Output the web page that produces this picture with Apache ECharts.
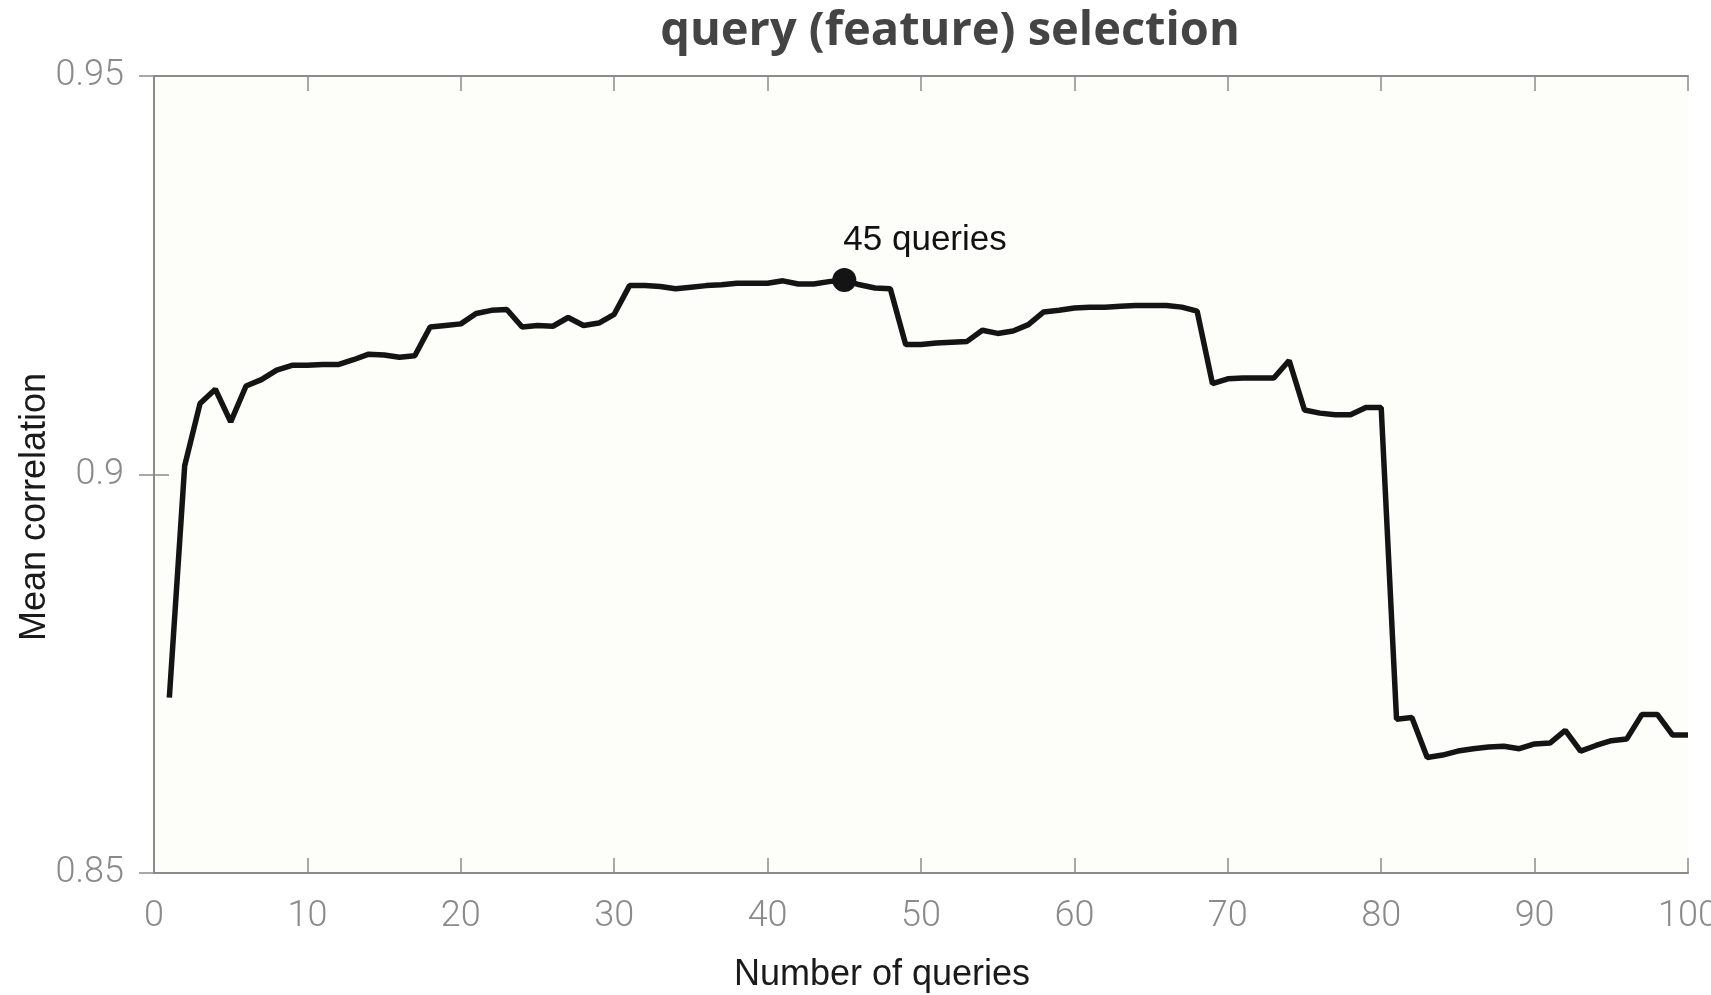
<!DOCTYPE html>
<html><head><meta charset="utf-8">
<script src="https://cdn.jsdelivr.net/npm/echarts@6/dist/echarts.min.js"></script>
<style>html,body{margin:0;padding:0;background:#fff}#c{width:1711px;height:995px}</style>
</head><body><div id="c"></div>
<script>
const queries = Array.from({length:100},(_,i)=>i+1);
const meanCorr = [
0.8720,0.9011,0.9089,0.9107,0.9066,0.9111,0.9119,0.9131,0.9137,0.9137,
0.9138,0.9138,0.9144,0.9151,0.9150,0.9147,0.9149,0.9185,0.9187,0.9189,
0.9202,0.9206,0.9207,0.9185,0.9187,0.9186,0.9197,0.9187,0.9190,0.9201,
0.9237,0.9237,0.9236,0.9233,0.9235,0.9237,0.9238,0.9240,0.9240,0.9240,
0.9243,0.9239,0.9239,0.9242,0.9244,0.9238,0.9234,0.9233,0.9163,0.9163,
0.9165,0.9166,0.9167,0.9181,0.9177,0.9180,0.9188,0.9204,0.9206,0.9209,
0.9210,0.9210,0.9211,0.9212,0.9212,0.9212,0.9210,0.9205,0.9114,0.9120,
0.9121,0.9121,0.9121,0.9143,0.9081,0.9077,0.9075,0.9075,0.9084,0.9084,
0.8693,0.8695,0.8645,0.8648,0.8653,0.8656,0.8658,0.8659,0.8656,0.8662,
0.8663,0.8679,0.8653,0.8660,0.8666,0.8668,0.8699,0.8699,0.8673,0.8673];
const highlightIndex = 45;
const highlightLabel = '45 queries';
const titleText = 'query (feature) selection';
const xName = 'Number of queries';
const yName = 'Mean correlation';

const chart = echarts.init(document.getElementById('c'));
const tickFont = {fontFamily:'Roboto', fontWeight:300, fontSize:36, color:'#8a8a8a'};
const axisLineStyle = {color:'#8c8c8c', width:2};
chart.setOption({
  backgroundColor:'#ffffff',
  animation:false,
  title:{text:titleText, left:945, top:27, textAlign:'center', textVerticalAlign:'middle',
    textStyle:{fontFamily:'Open Sans', fontWeight:'bold', fontSize:47, color:'#444444'}},
  grid:{left:154, right:23, top:76, bottom:122, outerBoundsMode:'none', containLabel:false,
    show:true, backgroundColor:'#fdfdf9', borderWidth:0},
  xAxis:[
    {type:'value', min:0, max:100, interval:10, position:'bottom',
     axisLine:{show:true, lineStyle:axisLineStyle},
     axisTick:{show:true, inside:true, length:15, lineStyle:{color:'#8c8c8c', width:1.5}},
     axisLabel:Object.assign({margin:26}, tickFont), splitLine:{show:false}},
    {type:'value', min:0, max:100, interval:10, position:'top',
     axisLine:{show:true, lineStyle:axisLineStyle},
     axisTick:{show:true, inside:true, length:15, lineStyle:{color:'#8c8c8c', width:1.5}},
     axisLabel:{show:false}, splitLine:{show:false}}
  ],
  yAxis:[
    {type:'value', min:0.85, max:0.95, interval:0.05, position:'left',
     axisLine:{show:true, lineStyle:axisLineStyle},
     axisTick:{show:true, inside:true, length:15, lineStyle:{color:'#8c8c8c', width:1.5}},
     axisLabel:Object.assign({margin:30}, tickFont), splitLine:{show:false}},
    {type:'value', min:0.85, max:0.95, interval:0.05, position:'right',
     axisLine:{show:true, lineStyle:axisLineStyle},
     axisTick:{show:true, inside:true, length:15, lineStyle:{color:'#8c8c8c', width:1.5}},
     axisLabel:{show:false}, splitLine:{show:false}}
  ],
  graphic:[
    {type:'text', x:882, y:975, style:{text:xName, fill:'#1a1a1a', font:'36px "Liberation Sans"', textAlign:'center', textVerticalAlign:'middle'}},
    {type:'text', x:35, y:507, rotation:Math.PI/2, style:{text:yName, fill:'#1a1a1a', font:'36px "Liberation Sans"', textAlign:'center', textVerticalAlign:'middle'}}
  ],
  series:[
    {type:'line', data:queries.map((q,i)=>[q, meanCorr[i]]), showSymbol:false, symbol:'none',
     lineStyle:{color:'#141414', width:5.5}, z:3},
    {type:'scatter', data:[[highlightIndex, meanCorr[highlightIndex-1]]], symbolSize:24,
     itemStyle:{color:'#141414', opacity:1}, z:4,
     label:{show:true, formatter:highlightLabel, position:[11,-28], align:'left', verticalAlign:'middle',
       fontFamily:'Liberation Sans', fontSize:35, color:'#111111'}}
  ]
});
</script></body></html>
